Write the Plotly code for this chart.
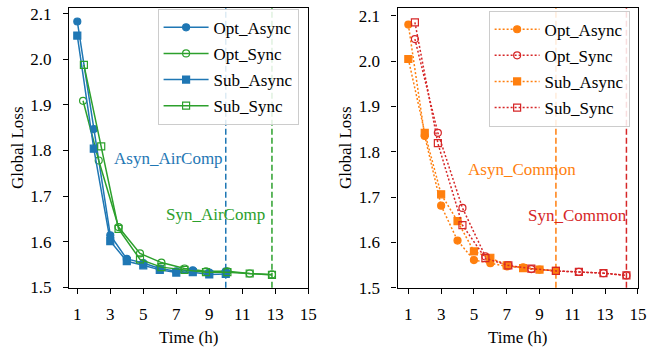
import plotly.graph_objects as go

# ---- data: AirComp (left panel) ----
air_async_x = [1, 2, 3, 4, 5, 6, 7, 8, 9, 10]
air_opt_async_y = [2.083, 1.847, 1.614, 1.562, 1.553, 1.541, 1.535, 1.537, 1.532, 1.535]
air_sub_async_y = [2.052, 1.804, 1.601, 1.557, 1.548, 1.538, 1.532, 1.533, 1.528, 1.529]
air_opt_sync_x = [1.35, 2.3, 3.5, 4.8, 6.1, 7.5, 8.8, 10.1, 11.45, 12.8]
air_opt_sync_y = [1.909, 1.778, 1.632, 1.574, 1.554, 1.541, 1.535, 1.535, 1.530, 1.528]
air_sub_sync_x = [1.4, 2.45, 3.5, 4.8, 6.1, 7.5, 8.8, 10.1, 11.45, 12.8]
air_sub_sync_y = [1.988, 1.809, 1.628, 1.561, 1.544, 1.538, 1.533, 1.533, 1.530, 1.527]
air_finish = {"Asyn_AirComp": 10.0, "Syn_AirComp": 12.8}

# ---- data: Common (right panel) ----
com_async_x = [1, 2, 3, 4, 5, 6, 7, 8, 9, 10]
com_opt_async_y = [2.081, 1.835, 1.681, 1.604, 1.561, 1.554, 1.547, 1.545, 1.540, 1.537]
com_sub_async_y = [2.005, 1.842, 1.706, 1.647, 1.580, 1.566, 1.549, 1.543, 1.540, 1.537]
com_sync_x = [1.4, 2.8, 4.3, 5.7, 7.1, 8.5, 10.0, 11.4, 12.9, 14.3]
com_opt_sync_y = [2.049, 1.842, 1.676, 1.569, 1.549, 1.541, 1.537, 1.535, 1.532, 1.527]
com_sub_sync_y = [2.086, 1.819, 1.638, 1.565, 1.549, 1.542, 1.537, 1.535, 1.532, 1.527]
com_finish = {"Asyn_Common": 10.0, "Syn_Common": 14.3}

x_ticks = [1, 3, 5, 7, 9, 11, 13, 15]
y_ticks = [1.5, 1.6, 1.7, 1.8, 1.9, 2.0, 2.1]

BLUE, GREEN, ORANGE, RED = "#1f77b4", "#2ca02c", "#ff7f0e", "#d62728"
FONT = "Liberation Serif"
FS = 17
W, H = 662, 354

fig = go.Figure()


def add_series(x, y, name, color, symbol, dash, xa, ya, legend, group):
    fig.add_trace(go.Scatter(
        x=x, y=y, name=name, mode="lines+markers",
        line=dict(color=color, width=1.5, dash=dash),
        marker=dict(symbol=symbol, size=7, color=color,
                    line=dict(color=color, width=1.2)),
        xaxis=xa, yaxis=ya, legend=legend, legendgroup=group,
    ))


# left panel: solid lines
add_series(air_async_x, air_opt_async_y, "Opt_Async", BLUE, "circle", "solid", "x", "y", "legend", "a1")
add_series(air_opt_sync_x, air_opt_sync_y, "Opt_Sync", GREEN, "circle-open", "solid", "x", "y", "legend", "a2")
add_series(air_async_x, air_sub_async_y, "Sub_Async", BLUE, "square", "solid", "x", "y", "legend", "a3")
add_series(air_sub_sync_x, air_sub_sync_y, "Sub_Sync", GREEN, "square-open", "solid", "x", "y", "legend", "a4")

# right panel: dotted lines
DOT = "2px,2px"
add_series(com_async_x, com_opt_async_y, "Opt_Async", ORANGE, "circle", DOT, "x2", "y2", "legend2", "b1")
add_series(com_sync_x, com_opt_sync_y, "Opt_Sync", RED, "circle-open", DOT, "x2", "y2", "legend2", "b2")
add_series(com_async_x, com_sub_async_y, "Sub_Async", ORANGE, "square", DOT, "x2", "y2", "legend2", "b3")
add_series(com_sync_x, com_sub_sync_y, "Sub_Sync", RED, "square-open", DOT, "x2", "y2", "legend2", "b4")

# finishing-time markers
for xref, yref, v, c in [("x", "y", air_finish["Asyn_AirComp"], BLUE),
                         ("x", "y", air_finish["Syn_AirComp"], GREEN),
                         ("x2", "y2", com_finish["Asyn_Common"], ORANGE),
                         ("x2", "y2", com_finish["Syn_Common"], RED)]:
    fig.add_shape(type="line", xref=xref, yref=yref + " domain", x0=v, x1=v, y0=0, y1=1,
                  line=dict(color=c, width=1.5, dash="6px,3px"), layer="below")

# labels for the finishing times
for text, x, y, c, xr, yr in [("Asyn_AirComp", 6.55, 1.783, BLUE, "x", "y"),
                              ("Syn_AirComp", 9.4, 1.660, GREEN, "x", "y"),
                              ("Asyn_Common", 7.95, 1.762, ORANGE, "x2", "y2"),
                              ("Syn_Common", 11.3, 1.660, RED, "x2", "y2")]:
    fig.add_annotation(x=x, y=y, xref=xr, yref=yr, text=text, showarrow=False,
                       font=dict(family=FONT, size=FS, color=c))

axis_common = dict(showline=True, linecolor="black", linewidth=1.2, mirror=True,
                   ticks="outside", ticklen=5, tickwidth=1, tickcolor="black",
                   showgrid=False, zeroline=False,
                   tickfont=dict(family=FONT, size=FS, color="black"),
                   title_font=dict(family=FONT, size=FS, color="black"))
x_common = dict(ticklabelstandoff=6, title=dict(text="Time (h)", standoff=7), **axis_common)
y_common = dict(ticklabelstandoff=8, tickformat=".1f",
                title=dict(text="Global Loss", standoff=2), **axis_common)

y_dom = [1 - 295.5 / H, 1 - 5 / H]
fig.update_layout(
    width=W, height=H, margin=dict(l=0, r=0, t=0, b=0),
    paper_bgcolor="white", plot_bgcolor="white",
    font=dict(family=FONT, size=FS, color="black"),
    xaxis=dict(domain=[70 / W, 312.5 / W], range=[0.5, 15], tickvals=x_ticks,
               anchor="y", **x_common),
    yaxis=dict(domain=y_dom, range=[1.499, 2.113], tickvals=y_ticks,
               anchor="x", **y_common),
    xaxis2=dict(domain=[403 / W, 646.7 / W], range=[0.34, 15], tickvals=x_ticks,
                anchor="y2", **x_common),
    yaxis2=dict(domain=y_dom, range=[1.5, 2.118], tickvals=y_ticks,
                anchor="x2", **y_common),
    showlegend=True,
)

legend_common = dict(bgcolor="rgba(255,255,255,0.85)", bordercolor="#cccccc", borderwidth=1,
                     font=dict(family=FONT, size=FS, color="black"),
                     traceorder="grouped", tracegroupgap=1, itemwidth=45,
                     xanchor="right", yanchor="top")
fig.update_layout(
    legend=dict(x=302.7 / W, y=1 - 6 / H, **legend_common),
    legend2=dict(x=638.3 / W, y=1 - 8 / H, **legend_common),
)

fig.write_html("out.html")
